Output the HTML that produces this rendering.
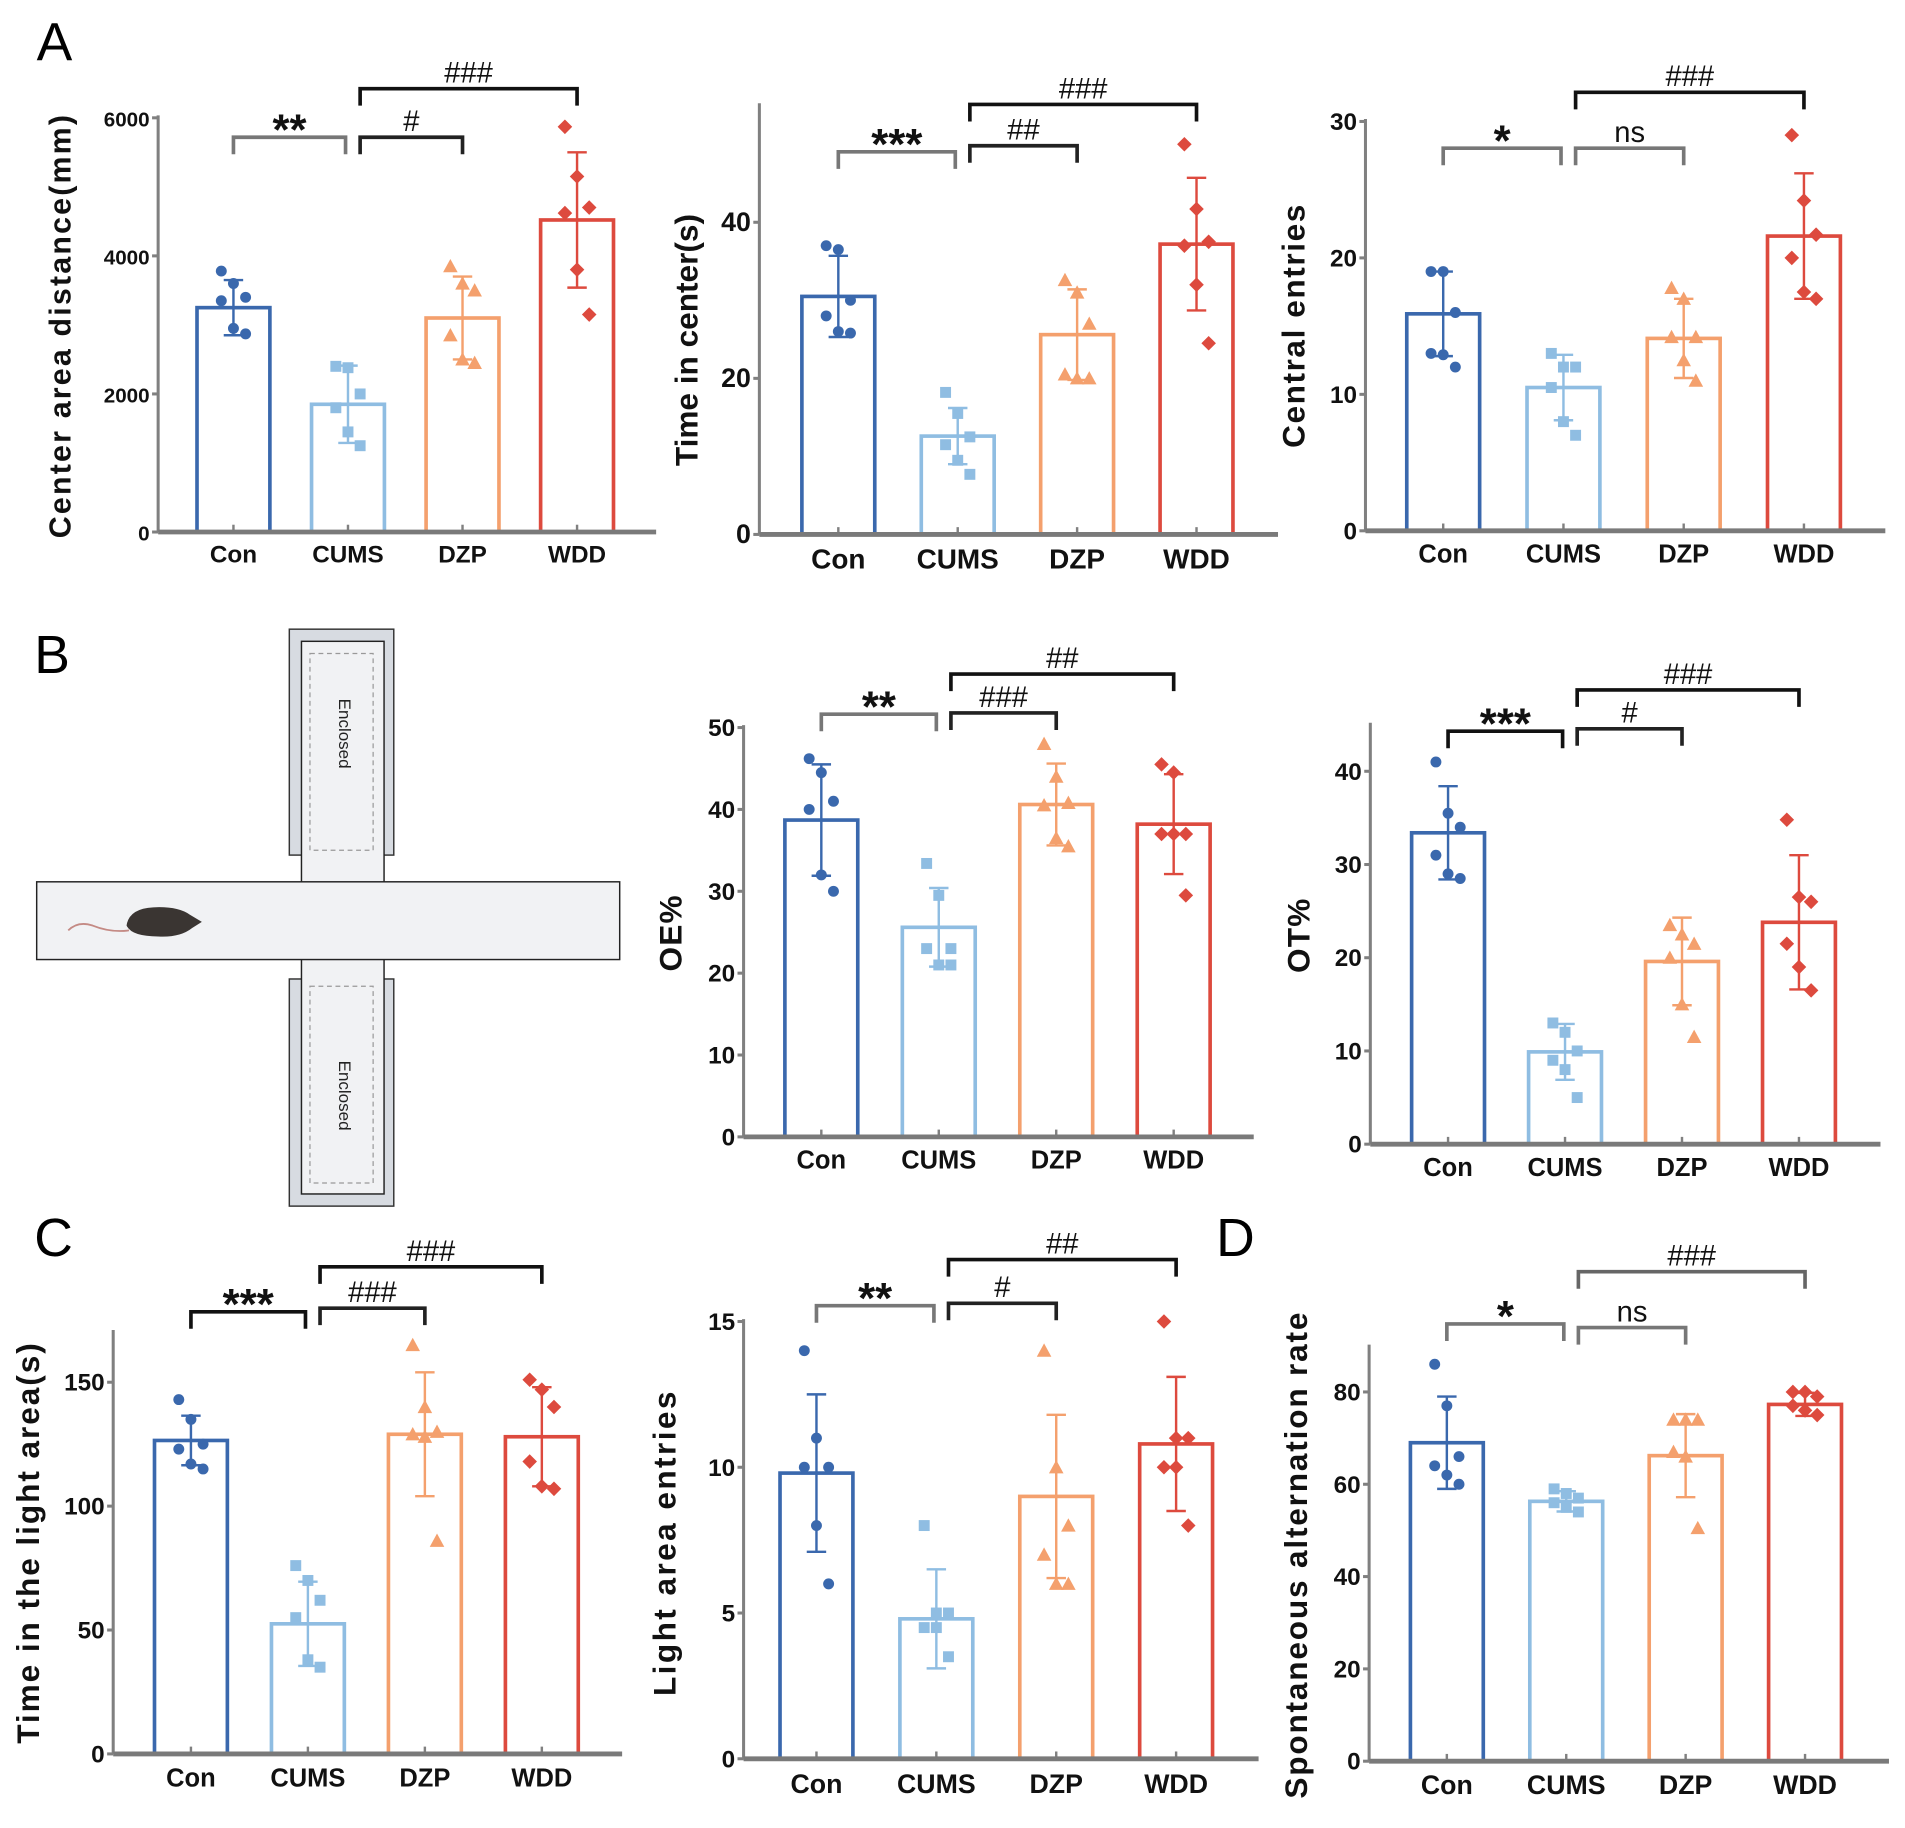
<!DOCTYPE html>
<html><head><meta charset="utf-8">
<style>
html,body{margin:0;padding:0;background:#fff;}
svg{display:block;font-family:"Liberation Sans",Arial,sans-serif;}
</style></head>
<body>
<svg id="fig" width="1905" height="1828" viewBox="0 0 1568 1505" xmlns="http://www.w3.org/2000/svg">
<rect x="0" y="0" width="1568" height="1505" fill="#fff"/>
<text x="30" y="50" font-size="44">A</text>
<text x="28" y="554" font-size="44">B</text>
<text x="28" y="1034" font-size="44">C</text>
<text x="1001" y="1034" font-size="44">D</text>
<g>
<rect x="238" y="518" width="86" height="186" fill="#d7dbe1" stroke="#333" stroke-width="1.2"/>
<rect x="238" y="806" width="86" height="187" fill="#d7dbe1" stroke="#333" stroke-width="1.2"/>
<rect x="248" y="528" width="68" height="455" fill="#f1f2f4" stroke="#222" stroke-width="1.2"/>
<rect x="30" y="726" width="480" height="64" fill="#f1f2f4" stroke="#222" stroke-width="1.2"/>
<rect x="249" y="727" width="66" height="62" fill="#f1f2f4"/>
<rect x="255" y="538" width="52" height="162" fill="none" stroke="#999" stroke-dasharray="4,3" stroke-width="1"/>
<rect x="255" y="812" width="52" height="162" fill="none" stroke="#999" stroke-dasharray="4,3" stroke-width="1"/>
<text transform="translate(279,604) rotate(90)" font-size="14" text-anchor="middle" fill="#222">Enclosed</text>
<text transform="translate(279,902) rotate(90)" font-size="14" text-anchor="middle" fill="#222">Enclosed</text>
<path d="M56,766 q8,-8 20,-4 q15,6 30,4" stroke="#c48a84" stroke-width="1.5" fill="none"/>
<path d="M104,762 q2,-14 22,-15 q20,-1 30,6 l10,6 l-8,5 q-10,8 -28,7 q-22,0 -26,-9 z" fill="#3a3532"/>
</g>
<g id="charts"></g>
</svg>
<script>
const categories = ["Con","CUMS","DZP","WDD"];
const colors = ["#3a68ad","#8fbde2","#f4a06d","#dd4a3e"];

const a1Means = [3250,1850,3100,4520];
const a1Errors = [400,560,600,980];
const a1Points = [[3780,3600,3400,3350,2950,2870],[2400,2380,2000,1800,1450,1250],[3850,3600,3500,2850,2500,2450],[5870,5150,4700,4620,3800,3150]];
const a1Ticks = [0,2000,4000,6000];

const a2Means = [30.5,12.6,25.6,37.2];
const a2Errors = [5.2,3.6,5.8,8.5];
const a2Points = [[37,36.5,30,28,26,25.8],[18.2,15.5,12.5,11.5,9.5,7.7],[32.6,31,27,20.5,20,20],[50,41.7,37.5,37,32,24.5]];
const a2Ticks = [0,20,40];

const a3Means = [15.9,10.5,14.1,21.6];
const a3Errors = [3.1,2.4,2.9,4.6];
const a3Points = [[19,19,16,13,12.9,12],[13,12,12,10.5,8,7],[17.8,17,14.2,14.2,12.5,11],[29,24.2,21.7,20,17.5,17]];
const a3Ticks = [0,10,20,30];

const b2Means = [38.7,25.6,40.6,38.2];
const b2Errors = [6.8,4.8,5,6.1];
const b2Points = [[46.2,44.5,41,40,32,30],[33.4,29.5,23,23,21,21],[48,44,40.8,40.5,36.5,35.5],[45.5,44.5,37,37,37,29.5]];
const b2Ticks = [0,10,20,30,40,50];

const b3Means = [33.4,9.9,19.6,23.8];
const b3Errors = [5,3,4.7,7.2];
const b3Points = [[41,35.5,34,31,29,28.5],[13,12,10,9,8,5],[23.5,22.5,21.5,20,15,11.5],[34.8,26.5,26,21.5,19,16.5]];
const b3Ticks = [0,10,20,30,40];

const c1Means = [126.5,52.5,129,128];
const c1Errors = [10,17,25,20];
const c1Points = [[143,135,125,123,117,115],[76,70,62,55,38,35],[165,140,130,129,128,86],[151,147,140,118,108,107]];
const c1Ticks = [0,50,100,150];

const c2Means = [9.8,4.8,9,10.8];
const c2Errors = [2.7,1.7,2.8,2.3];
const c2Points = [[14,11,10,10,8,6],[8,5,5,4.5,4.5,3.5],[14,10,8,7,6,6],[15,11,11,10,10,8]];
const c2Ticks = [0,5,10,15];

const dMeans = [69,56.3,66.2,77.3];
const dErrors = [10,2.2,9,2.5];
const dPoints = [[86,77,66,64,62,60],[59,58,57,56,55,54],[74,74,74,67,66,50.5],[80,80,79,77,76,75]];
const dTicks = [0,20,40,60,80];

const NS="http://www.w3.org/2000/svg";
const root=document.getElementById('charts');
function mk(tag,attrs,parent){const e=document.createElementNS(NS,tag);for(const k in attrs)e.setAttribute(k,attrs[k]);(parent||root).appendChild(e);return e;}
const jit=[-10,0,10,-10,0,10];

function marker(g,shape,x,y,col){
  let e;
  if(shape===0){e=mk('circle',{cx:x,cy:y,r:4.5,fill:col},g);}
  else if(shape===1){e=mk('rect',{x:x-4.5,y:y-4.5,width:9,height:9,fill:col},g);}
  else if(shape===2){e=mk('polygon',{points:`${x},${y-6} ${x+6},${y+5} ${x-6},${y+5}`,fill:col},g);}
  else {e=mk('polygon',{points:`${x},${y-6} ${x+6},${y} ${x},${y+6} ${x-6},${y}`,fill:col},g);}
  
  
}

function panel(cfg){
  const g=mk('g',{});
  
  
  const ymax=cfg.ticks[cfg.ticks.length-1];
  const Y=v=>cfg.y0-(v/ymax)*(cfg.y0-cfg.yTopPx);
  const X=i=>cfg.c0+i*cfg.step;
  const ya=mk('line',{x1:cfg.ax,y1:cfg.axisTop,x2:cfg.ax,y2:cfg.y0,stroke:'#808080','stroke-width':2.5},g);
  
  
  cfg.ticks.forEach(t=>{
    mk('line',{x1:cfg.ax-5,y1:Y(t),x2:cfg.ax,y2:Y(t),stroke:'#808080','stroke-width':2.5},g);
    const tl=mk('text',{x:cfg.ax-7,y:Y(t)+7,'font-size':cfg.tickFs,'text-anchor':'end','font-weight':'bold',fill:'#111'},g);
    tl.textContent=t;
    
    
  });
  const t=mk('text',{transform:`translate(${cfg.titleX},${cfg.titleY}) rotate(-90)`,'font-size':cfg.titleFs,'text-anchor':'middle','font-weight':'bold','letter-spacing':cfg.ls||0,fill:'#111'},g);
  t.textContent=cfg.title;
  
  
  categories.forEach((c,i)=>{
    const x=X(i),col=colors[i];
    const bar=mk('rect',{x:x-30,y:Y(cfg.means[i]),width:60,height:cfg.y0-Y(cfg.means[i]),fill:'none',stroke:col,'stroke-width':3},g);
    
    
    const hi=Y(cfg.means[i]+cfg.errs[i]),lo=Y(cfg.means[i]-cfg.errs[i]);
    const eb=mk('path',{d:`M${x},${hi}V${lo}M${x-8},${hi}H${x+8}M${x-8},${lo}H${x+8}`,stroke:col,'stroke-width':2,fill:'none'},g);
    
    
    cfg.pts[i].forEach((v,j)=>marker(g,i,x+jit[j],Y(v),col));
    mk('line',{x1:x,y1:cfg.y0,x2:x,y2:cfg.y0-6,stroke:'#808080','stroke-width':2},g);
    const cl=mk('text',{x:x,y:cfg.y0+cfg.labelDy,'font-size':cfg.catFs,'text-anchor':'middle','font-weight':'bold',fill:'#111'},g);
    cl.textContent=c;
    
    
  });
  const xa=mk('line',{x1:cfg.ax,y1:cfg.y0,x2:cfg.xEnd,y2:cfg.y0,stroke:'#7a7a7a','stroke-width':4},g);
  
  
  cfg.brackets.forEach(b=>{
    const [a,c,y,lab,col]=b;
    const x1=a===0?X(0):X(1)+10, x2=c===1?X(1)-2:X(c);
    const br=mk('path',{d:`M${x1},${y+14}V${y}H${x2}V${y+14}`,stroke:col,'stroke-width':3,fill:'none'},g);
    
    
    const star=lab.indexOf('*')>=0;
    const lt=mk('text',{x:(x1+x2)/2,y:star?y+6:y-5,'font-size':star?36:24,'text-anchor':'middle','font-weight':star?'bold':'normal',fill:'#111'},g);
    lt.textContent=lab;
    
    
  });
}

panel({name:'chart-center-area-distance',ax:130,y0:438,yTopPx:97,axisTop:95,ticks:a1Ticks,means:a1Means,errs:a1Errors,pts:a1Points,c0:192,step:94.3,xEnd:540,title:'Center area distance(mm)',titleX:58,titleY:268,titleFs:25,ls:1.8,tickFs:17,catFs:20,labelDy:25,
 brackets:[[0,1,113,'**','#777'],[1,2,113,'#','#222'],[1,3,73,'###','#111']]});
panel({name:'chart-time-in-center',ax:625,y0:440,yTopPx:183,axisTop:85,ticks:a2Ticks,means:a2Means,errs:a2Errors,pts:a2Points,c0:690,step:98.3,xEnd:1052,title:'Time in center(s)',titleX:574,titleY:280,titleFs:26,ls:0,tickFs:22,catFs:23,labelDy:28,
 brackets:[[0,1,125,'***','#777'],[1,2,120,'##','#222'],[1,3,86,'###','#111']]});
panel({name:'chart-central-entries',ax:1124,y0:437,yTopPx:100,axisTop:98,ticks:a3Ticks,means:a3Means,errs:a3Errors,pts:a3Points,c0:1188,step:99,xEnd:1552,title:'Central entries',titleX:1074,titleY:268,titleFs:26,ls:1.3,tickFs:20,catFs:21,labelDy:26,
 brackets:[[0,1,122,'*','#777'],[1,2,122,'ns','#777'],[1,3,76,'###','#111']]});
panel({name:'chart-oe-percent',ax:612,y0:936,yTopPx:599,axisTop:597,ticks:b2Ticks,means:b2Means,errs:b2Errors,pts:b2Points,c0:676,step:96.7,xEnd:1032,title:'OE%',titleX:561,titleY:768,titleFs:26,ls:1,tickFs:20,catFs:21,labelDy:26,
 brackets:[[0,1,588,'**','#777'],[1,2,587,'###','#222'],[1,3,555,'##','#111']]});
panel({name:'chart-ot-percent',ax:1128,y0:942,yTopPx:635,axisTop:595,ticks:b3Ticks,means:b3Means,errs:b3Errors,pts:b3Points,c0:1192,step:96.3,xEnd:1548,title:'OT%',titleX:1078,titleY:770,titleFs:26,ls:1,tickFs:20,catFs:21,labelDy:26,
 brackets:[[0,1,602,'***','#111'],[1,2,600,'#','#222'],[1,3,568,'###','#111']]});
panel({name:'chart-time-in-light-area',ax:93,y0:1444,yTopPx:1138,axisTop:1095,ticks:c1Ticks,means:c1Means,errs:c1Errors,pts:c1Points,c0:157,step:96.3,xEnd:512,title:'Time in the light area(s)',titleX:32,titleY:1270,titleFs:26,ls:1.6,tickFs:20,catFs:21,labelDy:27,
 brackets:[[0,1,1080,'***','#111'],[1,2,1077,'###','#222'],[1,3,1043,'###','#111']]});
panel({name:'chart-light-area-entries',ax:612,y0:1448,yTopPx:1088,axisTop:1086,ticks:c2Ticks,means:c2Means,errs:c2Errors,pts:c2Points,c0:672,step:98.7,xEnd:1036,title:'Light area entries',titleX:556,titleY:1270,titleFs:26,ls:2,tickFs:20,catFs:22,labelDy:28,
 brackets:[[0,1,1075,'**','#777'],[1,2,1073,'#','#222'],[1,3,1037,'##','#111']]});
panel({name:'chart-spontaneous-alternation',ax:1127,y0:1450,yTopPx:1146,axisTop:1107,ticks:dTicks,means:dMeans,errs:dErrors,pts:dPoints,c0:1191,step:98.3,xEnd:1555,title:'Spontaneous alternation rate',titleX:1076,titleY:1280,titleFs:26,ls:1.5,tickFs:20,catFs:22,labelDy:27,
 brackets:[[0,1,1090,'*','#777'],[1,2,1093,'ns','#777'],[1,3,1047,'###','#666']]});
</script>
</body></html>
